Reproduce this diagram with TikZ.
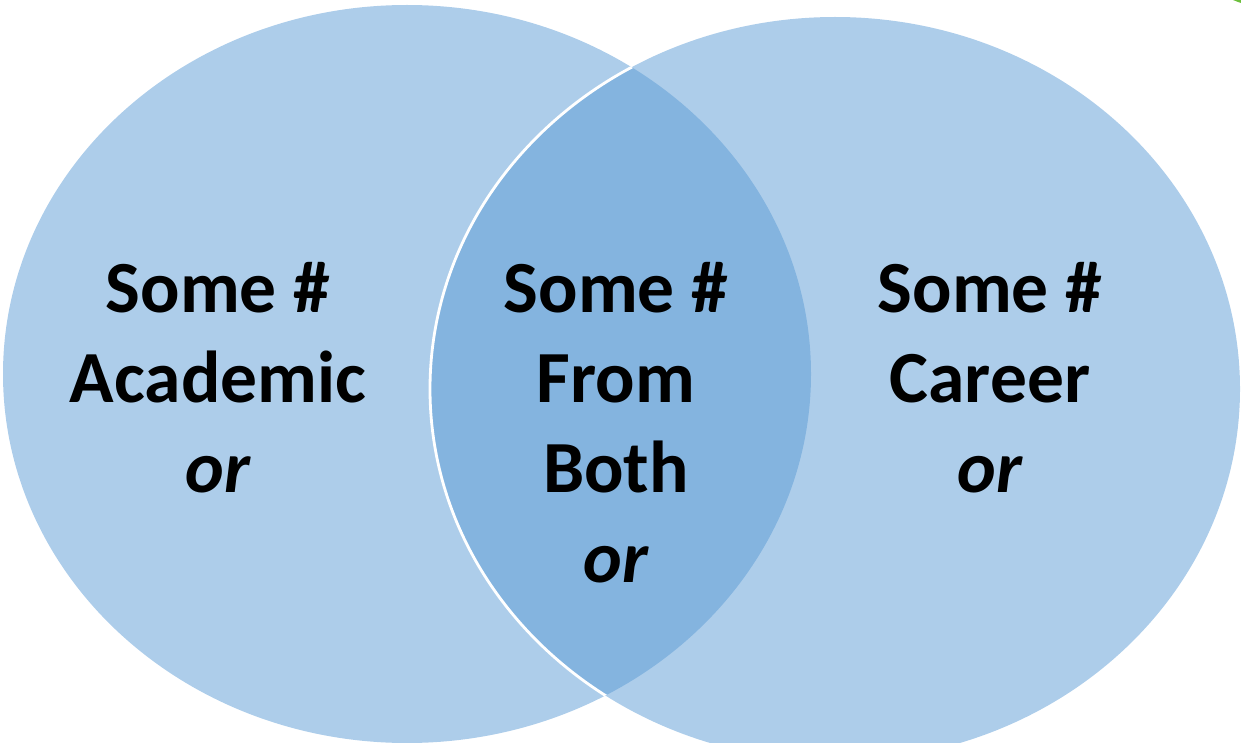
\documentclass[tikz,border=0pt]{standalone}
\usepackage{fontspec}
\setmainfont{Carlito}
\definecolor{vennblue}{HTML}{5B9BD5}
\definecolor{cornergreen}{HTML}{6CBF3C}
\begin{document}
\begin{tikzpicture}[x=1pt,y=-1pt,
  venn/.style={fill=vennblue,fill opacity=0.5},
  lbl/.style={anchor=base,inner sep=0pt,font=\fontsize{73.5}{90}\selectfont\bfseries},
  orlbl/.style={lbl,font=\fontsize{73.5}{90}\selectfont\bfseries\itshape}]
\useasboundingbox (0,0) rectangle (1241,743);
% green fragment at the corner
\fill[cornergreen] (1233,0) -- (1241,0) -- (1241,3) -- (1238,2) -- cycle;
% circles
\fill[venn] (407,374) ellipse [x radius=404, y radius=369];
\fill[venn] (835,389) ellipse [x radius=405, y radius=372];
\begin{scope}
  \clip (407,374) ellipse [x radius=404, y radius=369];
  \draw[white,line width=2.8pt] (835,389) ellipse [x radius=405, y radius=372];
\end{scope}
% left
\node[lbl] (l1) at (218,312) {Some \#};
\node[lbl] (l2) at (218,402) {Academic};
\node[orlbl] (l3) at (218,492) {or};
% middle
\node[lbl] (m1) at (616,312) {Some \#};
\node[lbl] (m2) at (616,402) {From};
\node[lbl] (m3) at (616,492) {Both};
\node[orlbl] (m4) at (616,582) {or};
% right
\node[lbl] (r1) at (990,312) {Some \#};
\node[lbl] (r2) at (990,402) {Career};
\node[orlbl] (r3) at (990,492) {or};
\end{tikzpicture}
\end{document}
